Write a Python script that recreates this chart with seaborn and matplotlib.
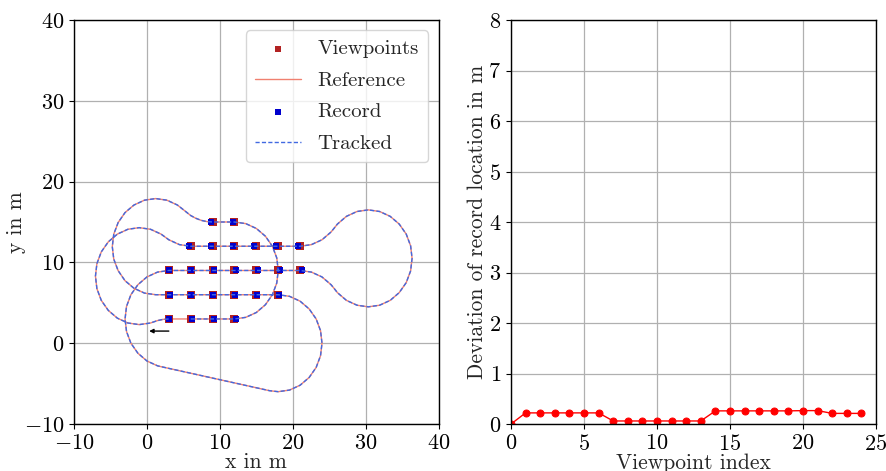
import matplotlib
matplotlib.use("Agg")
import matplotlib.pyplot as plt
import seaborn as sns

# ---------------- data ----------------
# planned viewpoints (index order 0..24)
viewpoint_x = [3, 6, 9, 12, 12, 9, 3, 6, 9, 12, 15, 18, 3, 6, 9, 12, 15, 18, 21,
               21, 18, 15, 12, 9, 6]
viewpoint_y = [3, 3, 3, 3, 15, 15, 6, 6, 6, 6, 6, 6, 9, 9, 9, 9, 9, 9, 9,
               12, 12, 12, 12, 12, 12]

# recorded locations
record_x = [3.0, 6.22, 9.22, 12.22, 11.78, 8.78, 3.22, 6.06, 9.06, 12.06, 15.06, 18.06,
            3.06, 6.06, 9.26, 12.26, 15.26, 18.26, 21.26,
            20.74, 17.735, 14.735, 11.79, 8.79, 5.79]
record_y = viewpoint_y

# reference path
path_x = [3.0, 6.0, 12.0,
          13.55, 15.0, 16.24, 17.20, 17.80, 18.0, 17.80, 17.20, 16.24, 15.0, 13.55, 12.0,
          9.0,
          8.22, 7.45, 6.70, 6.0, 5.08,
          4.18, 2.74, 1.2, -0.34, -1.78, -3.01, -3.95, -4.55, -4.75, -4.55, -3.95, -3.01,
          -1.78, -0.34, 1.2,
          18.0,
          19.55, 21.0, 22.24, 23.20, 23.80, 24.0, 23.80, 23.20, 22.24, 21.0, 19.55, 18.0, 16.82,
          1.82,
          1.45, 0.0, -1.24, -2.20, -2.80, -3.0, -2.80, -2.20, -1.24, 0.0, 1.45, 3.0,
          21.0,
          22.55, 24.0, 25.24, 25.68,
          26.11, 27.35, 28.80, 30.35, 31.90, 33.35, 34.59, 35.55, 36.15, 36.35, 36.15, 35.55,
          34.59, 33.35, 31.90, 30.35, 28.80, 27.35, 26.11, 25.68,
          25.24, 24.0, 22.55, 21.0,
          6.0,
          4.45, 3.0, 2.47,
          1.94, 0.49, -1.06, -2.61, -4.06, -5.30, -6.26, -6.86, -7.06, -6.86, -6.26, -5.30,
          -4.06, -2.61, -1.06, 0.49, 0.97,
          1.45, 2.22, 3.0]
path_y = [3.0, 3.0, 3.0,
          3.20, 3.80, 4.76, 6.0, 7.45, 9.0, 10.55, 12.0, 13.24, 14.20, 14.80, 15.0,
          15.0,
          15.05, 15.20, 15.46, 15.80, 16.46,
          17.10, 17.70, 17.90, 17.70, 17.10, 16.16, 14.93, 13.49, 11.95, 10.41, 8.98, 7.74,
          6.80, 6.20, 6.0,
          6.0,
          5.80, 5.20, 4.24, 3.0, 1.55, 0.0, -1.55, -3.0, -4.24, -5.20, -5.80, -6.0, -5.88,
          -2.88,
          -2.80, -2.20, -1.24, 0.0, 1.45, 3.0, 4.55, 6.0, 7.24, 8.20, 8.80, 9.0,
          9.0,
          8.80, 8.20, 7.24, 6.76,
          6.26, 5.30, 4.70, 4.5, 4.70, 5.30, 6.26, 7.50, 8.95, 10.5, 12.05, 13.5,
          14.74, 15.70, 16.30, 16.5, 16.30, 15.70, 14.74, 14.25,
          13.76, 12.80, 12.20, 12.0,
          12.0,
          12.20, 12.80, 13.15,
          13.50, 14.10, 14.30, 14.10, 13.50, 12.54, 11.30, 9.85, 8.30, 6.75, 5.30, 4.06,
          3.10, 2.50, 2.30, 2.50, 2.65,
          2.80, 2.95, 3.0]

# tracked path starts at the second viewpoint
track_x = path_x[1:]
track_y = path_y[1:]

# deviation of record location per viewpoint index
viewpoint_index = list(range(25))
deviation = [0.0, 0.22, 0.22, 0.22, 0.22, 0.22, 0.22,
             0.06, 0.06, 0.06, 0.06, 0.06, 0.06, 0.06,
             0.26, 0.26, 0.26, 0.26, 0.26, 0.26, 0.265, 0.265,
             0.21, 0.21, 0.21]

# ---------------- style ----------------
sns.set_style("ticks", {"axes.grid": True, "grid.color": "#b0b0b0",
                        "axes.edgecolor": "black"})
plt.rcParams.update({
    "font.family": ["cmr10"],
    "mathtext.fontset": "cm",
    "axes.formatter.use_mathtext": True,
    "axes.unicode_minus": True,
    "font.size": 15,
    "xtick.labelsize": 16,
    "ytick.labelsize": 16,
    "axes.labelsize": 15.5,
    "grid.linewidth": 0.9,
    "axes.linewidth": 1.0,
    "xtick.direction": "out",
    "ytick.direction": "out",
    "xtick.major.size": 3.5,
    "ytick.major.size": 3.5,
    "xtick.color": "black",
    "ytick.color": "black",
})

fig = plt.figure(figsize=(8.87, 4.71), dpi=100)
ax1 = fig.add_axes([74 / 887, 47 / 471, 364.7 / 887, 404 / 471])
ax2 = fig.add_axes([511 / 887, 47 / 471, 365 / 887, 404 / 471])

# ---------------- left plot ----------------
sns.scatterplot(x=viewpoint_x, y=viewpoint_y, ax=ax1, marker="s", s=27,
                color="#b22222", linewidth=0, label="Viewpoints", zorder=3)
sns.lineplot(x=path_x, y=path_y, ax=ax1, sort=False, estimator=None,
             color="#f08070", linewidth=1.0, label="Reference", zorder=2)
sns.scatterplot(x=record_x, y=record_y, ax=ax1, marker="s", s=22,
                color="#0000cd", linewidth=0, label="Record", zorder=4)
sns.lineplot(x=track_x, y=track_y, ax=ax1, sort=False, estimator=None,
             color="#4169e1", linewidth=1.0, dashes=False, label="Tracked", zorder=5)
ax1.lines[-1].set_dashes([3, 1.6])

ax1.annotate("", xy=(0.3, 1.5), xytext=(3.0, 1.5),
             arrowprops=dict(arrowstyle="-|>", color="black", lw=1.0,
                             mutation_scale=6, shrinkA=0, shrinkB=0), zorder=6)

ax1.set_xlim(-10, 40)
ax1.set_ylim(-10, 40)
ax1.set_xticks([-10, 0, 10, 20, 30, 40])
ax1.set_yticks([-10, 0, 10, 20, 30, 40])
ax1.set_xlabel("x in m", labelpad=-0.5)
ax1.set_ylabel("y in m", labelpad=-1.5)
ax1.set_axisbelow(True)

handles, labels = ax1.get_legend_handles_labels()
hmap = dict(zip(labels, handles))
order = ["Viewpoints", "Reference", "Record", "Tracked"]
ax1.legend([hmap[k] for k in order], order, loc="upper right", fontsize=15,
           framealpha=0.8, edgecolor="#cccccc", fancybox=True,
           handletextpad=0.8, borderpad=0.45, labelspacing=0.62,
           handlelength=2.2, markerscale=0.8)

# ---------------- right plot ----------------
sns.lineplot(x=viewpoint_index, y=deviation, ax=ax2, color="red", marker="o",
             markersize=5, markeredgecolor="red", linewidth=1.0, legend=False)
ax2.set_xlim(0, 25)
ax2.set_ylim(0, 8)
ax2.set_xticks([0, 5, 10, 15, 20, 25])
ax2.set_yticks(range(0, 9))
ax2.set_xlabel("Viewpoint index", labelpad=-0.5)
ax2.set_ylabel("Deviation of record location in m", labelpad=1.0)
ax2.set_axisbelow(True)

for ax in (ax1, ax2):
    for sp in ax.spines.values():
        sp.set_visible(True)
        sp.set_color("black")

fig.savefig("out.png", dpi=100)
